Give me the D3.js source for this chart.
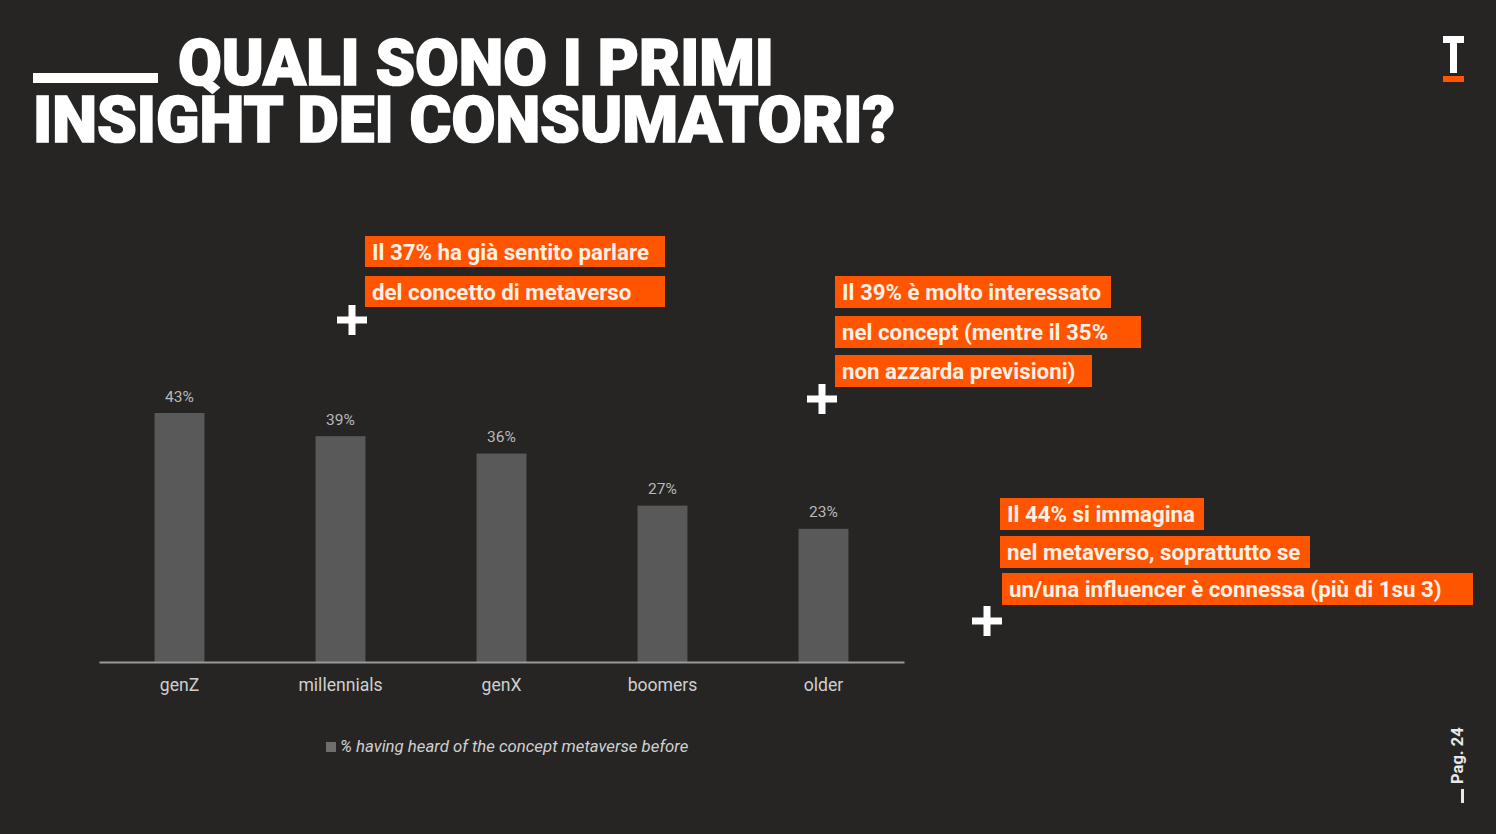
<!DOCTYPE html>
<html>
<head>
<meta charset="utf-8">
<script src="https://cdn.jsdelivr.net/npm/d3@7"></script>
<style>
html, body { margin: 0; padding: 0; background: #262524; overflow: hidden; }
svg { display: block; font-family: Roboto, sans-serif; }
</style>
</head>
<body>
<script>
// chart data
const categories = ["genZ", "millennials", "genX", "boomers", "older"];
const values = [43, 39, 36, 27, 23];
const legendLabel = "% having heard of the concept metaverse before";

// title and callouts
const titleLines = ["QUALI SONO I PRIMI", "INSIGHT DEI CONSUMATORI?"];
const calloutLines = [
  "Il 37% ha già sentito parlare", "del concetto di metaverso",
  "Il 39% è molto interessato", "nel concept (mentre il 35%", "non azzarda previsioni)",
  "Il 44% si immagina", "nel metaverso, soprattutto se", "un/una influencer è connessa (più di 1su 3)"
];
const calloutBoxes = [
  [365, 236, 300, 31], [365, 276, 300, 31],
  [835, 276, 276, 32], [835, 316, 306, 32], [835, 355, 257, 32],
  [1000, 498, 204, 32], [1000, 536, 310, 32], [1002, 573, 471, 32]
];
const plusSigns = [[352, 320], [822, 399], [987, 621]];

const orange = "#ff5500";

const svg = d3.select("body").append("svg")
  .attr("width", 1496)
  .attr("height", 834);

const x = d3.scaleBand().domain(categories).range([99, 904]).paddingInner(0.69).paddingOuter(0.345);
const y = d3.scaleLinear().domain([0, 43]).range([662, 413]);

// bars
svg.selectAll("rect.bar")
  .data(values)
  .enter().append("rect")
  .attr("class", "bar")
  .attr("x", (d, i) => x(categories[i]))
  .attr("y", d => y(d))
  .attr("width", x.bandwidth())
  .attr("height", d => y(0) - y(d))
  .attr("fill", "#595959");

// value labels
svg.selectAll("text.val")
  .data(values)
  .enter().append("text")
  .attr("class", "val")
  .attr("x", (d, i) => x(categories[i]) + x.bandwidth() / 2)
  .attr("y", d => y(d) - 11.5)
  .attr("text-anchor", "middle")
  .attr("font-size", 15.5)
  .attr("fill", "#b9b9b9")
  .text(d => d + "%");

// x axis
const axis = svg.append("g")
  .attr("transform", "translate(0,662)")
  .call(d3.axisBottom(x).tickSize(0).tickPadding(16.5));
axis.select(".domain").attr("stroke", "#9a9a9a").attr("stroke-width", 2);
axis.selectAll("text")
  .attr("font-family", "Roboto, sans-serif")
  .attr("font-size", 17.6)
  .attr("fill", "#cfcfcf");

// legend
svg.append("rect")
  .attr("x", 326).attr("y", 742)
  .attr("width", 10).attr("height", 10)
  .attr("fill", "#6e6e6e");
svg.append("text")
  .attr("x", 340).attr("y", 752)
  .attr("font-size", 16.8)
  .attr("font-style", "italic")
  .attr("fill", "#d0d0d0")
  .text(legendLabel);

// title
svg.append("rect")
  .attr("x", 33).attr("y", 73)
  .attr("width", 125).attr("height", 10)
  .attr("fill", "#fff");

const titleX = [178, 33];
const titleY = [85, 142];
const titleW = [596, 862];
svg.selectAll("text.title")
  .data(titleLines)
  .enter().append("text")
  .attr("class", "title")
  .attr("x", (d, i) => titleX[i])
  .attr("y", (d, i) => titleY[i])
  .attr("font-size", 65)
  .attr("font-weight", 900)
  .attr("fill", "#fff")
  .attr("stroke", "#fff")
  .attr("stroke-width", 1.6)
  .attr("textLength", (d, i) => titleW[i])
  .attr("lengthAdjust", "spacingAndGlyphs")
  .text(d => d);

// orange callouts
svg.selectAll("rect.box")
  .data(calloutBoxes)
  .enter().append("rect")
  .attr("class", "box")
  .attr("x", d => d[0])
  .attr("y", d => d[1])
  .attr("width", d => d[2])
  .attr("height", d => d[3])
  .attr("fill", orange);

svg.selectAll("text.callout")
  .data(calloutLines)
  .enter().append("text")
  .attr("class", "callout")
  .attr("x", (d, i) => calloutBoxes[i][0] + 7)
  .attr("y", (d, i) => calloutBoxes[i][1] + 24)
  .attr("font-size", 22.3)
  .attr("font-weight", 700)
  .attr("fill", "#fff0e8")
  .text(d => d);

// plus signs
plusSigns.forEach(p => {
  svg.append("rect").attr("x", p[0] - 15).attr("y", p[1] - 3.5).attr("width", 30).attr("height", 7).attr("fill", "#fff");
  svg.append("rect").attr("x", p[0] - 3.5).attr("y", p[1] - 15).attr("width", 7).attr("height", 30).attr("fill", "#fff");
});

// logo
svg.append("rect").attr("x", 1443).attr("y", 36).attr("width", 21).attr("height", 7).attr("fill", "#fff");
svg.append("rect").attr("x", 1450).attr("y", 36).attr("width", 7).attr("height", 37).attr("fill", "#fff");
svg.append("rect").attr("x", 1443).attr("y", 76).attr("width", 21).attr("height", 6).attr("fill", orange);

// page number
svg.append("text")
  .attr("transform", "translate(1463,784) rotate(-90)")
  .attr("font-size", 16.5)
  .attr("font-weight", 700)
  .attr("fill", "#e8e8e8")
  .text("Pag. 24");
svg.append("rect").attr("x", 1461).attr("y", 789).attr("width", 3).attr("height", 14).attr("fill", "#e8e8e8");
</script>
</body>
</html>
